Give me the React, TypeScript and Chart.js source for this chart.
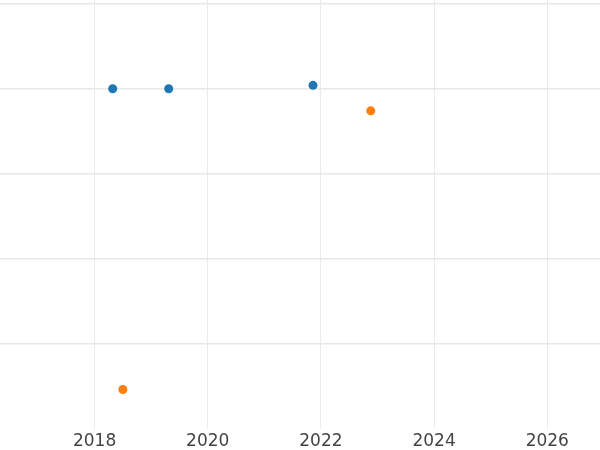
import React, { useEffect, useRef } from "react";
import { Chart, registerables } from "chart.js";

Chart.register(...registerables);

const blueX = [2018.32, 2019.31, 2021.86];
const blueY = [4.0, 4.0, 4.04];
const orangeX = [2022.88, 2018.5];
const orangeY = [3.74, 0.46];
const xTicks = [2018, 2020, 2022, 2024, 2026];
const yTicks = [0, 1, 2, 3, 4, 5];

export default function App() {
  const ref = useRef<HTMLCanvasElement>(null);
  useEffect(() => {
    if (!ref.current) return;
    const chart = new Chart(ref.current, {
      type: "scatter",
      data: {
        datasets: [
          {
            label: "A",
            data: blueX.map((x, i) => ({ x, y: blueY[i] })),
            backgroundColor: "#1f77b4",
            borderWidth: 0,
            pointRadius: 4.5,
          },
          {
            label: "B",
            data: orangeX.map((x, i) => ({ x, y: orangeY[i] })),
            backgroundColor: "#ff7f0e",
            borderWidth: 0,
            pointRadius: 4.5,
          },
        ],
      },
      options: {
        responsive: false,
        animation: false,
        layout: { padding: 0 },
        plugins: { legend: { display: false }, tooltip: { enabled: false } },
        scales: {
          x: {
            type: "linear",
            min: 2016.32,
            max: 2026.94,
            afterBuildTicks: (s: any) => {
              s.ticks = xTicks.map((v) => ({ value: v }));
            },
            grid: { color: "#ebebeb", lineWidth: 1, drawTicks: false },
            border: { display: false },
            ticks: {
              padding: 3,
              color: "#444444",
              font: { family: "DejaVu Sans", size: 17 },
              callback: (v: any) => String(v),
            },
          },
          y: {
            type: "linear",
            min: 0,
            max: 5.05,
            afterBuildTicks: (s: any) => {
              s.ticks = yTicks.map((v) => ({ value: v }));
            },
            grid: {
              color: (c: any) => (c.tick && c.tick.value === 0 ? "rgba(0,0,0,0)" : "#e8e8e8"),
              lineWidth: 1.5,
              drawTicks: false,
            },
            border: { display: false },
            ticks: { display: false },
          },
        },
      },
    });
    return () => chart.destroy();
  }, []);
  return (
    <div style={{ position: "absolute", left: 0, top: 0, width: 600, height: 450, overflow: "hidden", background: "#fff" }}>
      <canvas ref={ref} width={610} height={460} style={{ position: "absolute", left: -5, top: -5 }} />
    </div>
  );
}
